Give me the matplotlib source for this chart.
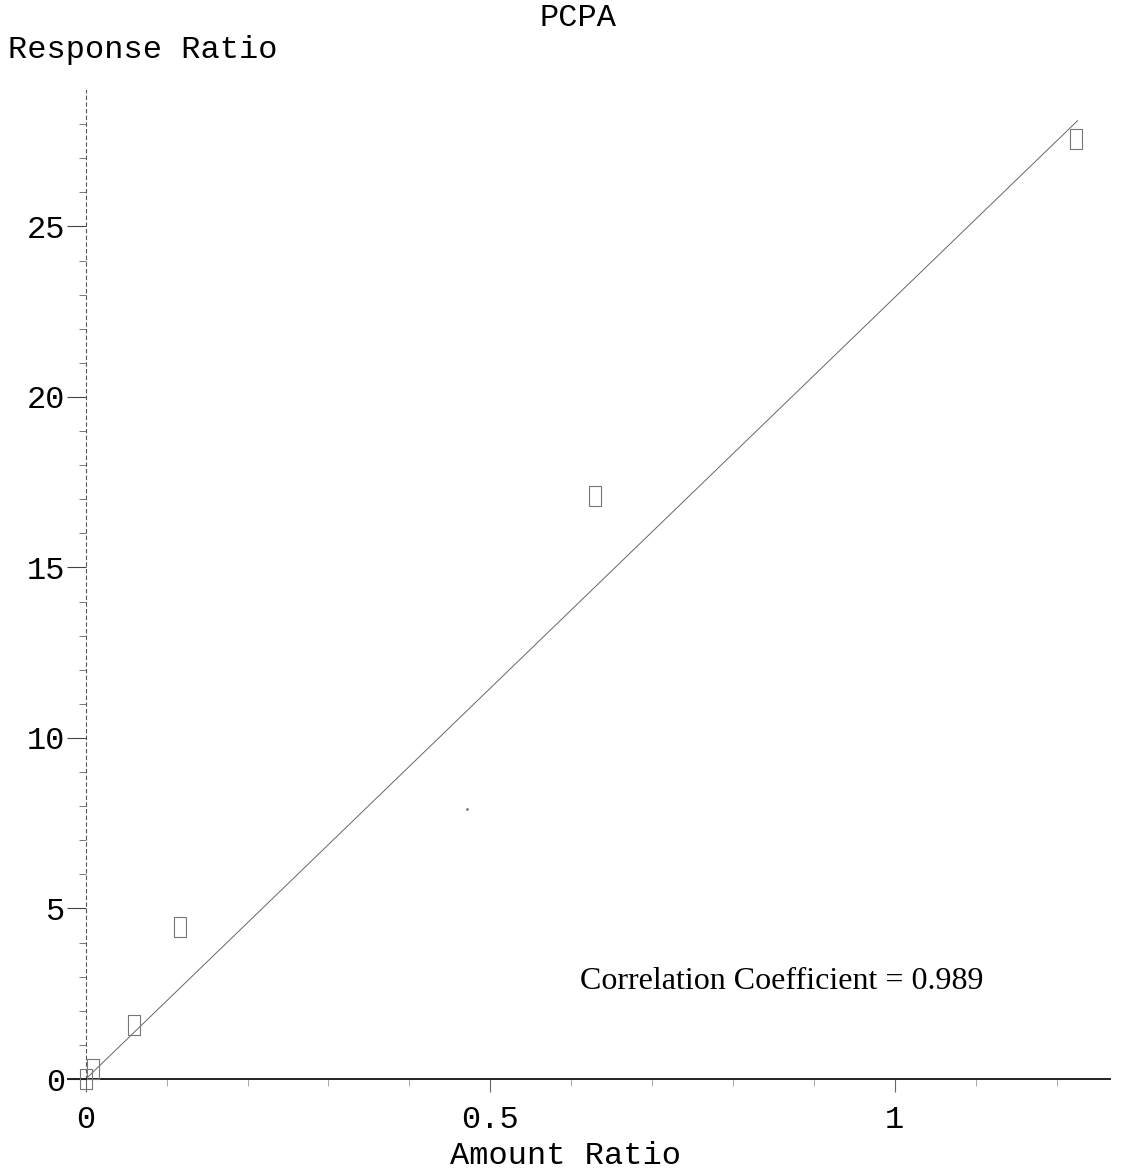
import numpy as np
import matplotlib
matplotlib.use('Agg')
from matplotlib import pyplot as plt

# calibration points (amount ratio vs response ratio)
amount = [0.0, 0.009, 0.059, 0.117, 0.630, 1.224]
response = [0.0, 0.3, 1.58, 4.45, 17.1, 27.55]

# fitted line end points
fit_x = [0.0, 1.226]
fit_y = [0.0, 28.1]

# stray dot on the scan
dot_x = [0.471]
dot_y = [7.93]

yticks = [0, 5, 10, 15, 20, 25]
xticks = [0, 0.5, 1]
xticklabels = ['0', '0.5', '1']
corr = 0.989

mono = 'Liberation Mono'
serif = 'Liberation Serif'

fig = plt.figure(figsize=(11.24, 11.75), dpi=100)
ax = fig.add_axes([0.0605, 0.0817, 0.927, 0.8417])
ax.set_xlim(-0.022, 1.266)
ax.set_ylim(0, 29)

# tall hollow rectangle marker
rect = [(-0.28, -0.5), (0.28, -0.5), (0.28, 0.5), (-0.28, 0.5), (-0.28, -0.5)]

ax.plot(fit_x, fit_y, color='#666666', lw=0.7, zorder=2)
ax.plot(amount, response, ls='none', marker=rect, ms=15, mfc='none',
        mec='#777777', mew=0.8, clip_on=False, zorder=3)
ax.plot(dot_x, dot_y, ls='none', marker='.', ms=2, color='#777777')

for s in ['top', 'right']:
    ax.spines[s].set_visible(False)
ax.spines['bottom'].set_position(('data', 0))
ax.spines['bottom'].set_linewidth(1.4)
ax.spines['bottom'].set_color('#222222')
ax.spines['left'].set_position(('data', 0))
ax.spines['left'].set_linestyle((0, (3, 3)))
ax.spines['left'].set_linewidth(0.8)
ax.spines['left'].set_color('#555555')

ax.set_yticks(yticks)
ax.set_yticklabels([str(v) for v in yticks], fontfamily=mono, fontsize=23)
ax.set_yticks(np.arange(0, 29, 1), minor=True)
ax.tick_params(axis='y', which='major', direction='out', length=14, width=0.8,
               color='#444444', pad=1)
ax.tick_params(axis='y', which='minor', direction='out', length=5, width=0.7,
               color='#777777')

ax.set_xticks(xticks)
ax.set_xticklabels(xticklabels, fontfamily=mono, fontsize=23)
ax.set_xticks(np.arange(0, 1.25, 0.1), minor=True)
ax.tick_params(axis='x', which='major', direction='out', length=9, width=0.8,
               color='#666666', pad=10)
ax.tick_params(axis='x', which='minor', direction='out', length=5, width=0.6,
               color='#999999')

fig.text(566 / 1124, 1 - 1156 / 1175, 'Amount Ratio', fontfamily=mono,
         fontsize=23, ha='center', va='center')
fig.text(8 / 1124, 1 - 50 / 1175, 'Response Ratio', fontfamily=mono,
         fontsize=23, ha='left', va='center')
fig.text(578 / 1124, 1 - 18 / 1175, 'PCPA', fontfamily=mono,
         fontsize=23, ha='center', va='center')
ax.text(0.611, 2.87, 'Correlation Coefficient = %.3f' % corr,
        fontfamily=serif, fontsize=23, ha='left', va='center')

fig.savefig('out.png', dpi=100)
